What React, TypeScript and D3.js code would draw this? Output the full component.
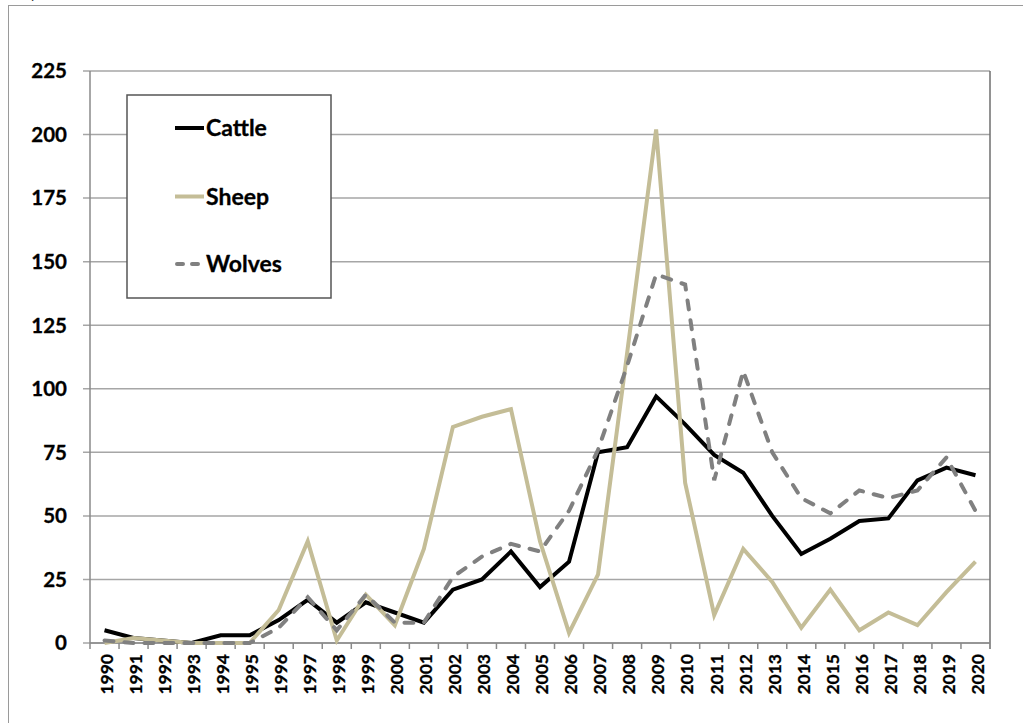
import React from "react";
import * as d3 from "d3";

const years: string[] = [
  "1990","1991","1992","1993","1994","1995","1996","1997","1998","1999",
  "2000","2001","2002","2003","2004","2005","2006","2007","2008","2009",
  "2010","2011","2012","2013","2014","2015","2016","2017","2018","2019","2020",
];

const cattle: number[] = [5, 2, 1, 0, 3, 3, 9, 17, 8, 16, 12, 8, 21, 25, 36, 22, 32, 75, 77, 97, 86, 74, 67, 50, 35, 41, 48, 49, 64, 69, 66];
const sheep: number[] = [0, 2, 1, 0, 0, 0, 13, 40, 1, 19, 7, 37, 85, 89, 92, 40, 4, 27, 114, 202, 63, 11, 37, 24, 6, 21, 5, 12, 7, 20, 32];
const wolves: number[] = [1, 0, 0, 0, 0, 0, 6, 18, 5, 19, 8, 8, 26, 34, 39, 36, 52, 76, 109, 145, 141, 64, 107, 75, 57, 51, 60, 57, 60, 73, 52];

const yTicks: number[] = [0, 25, 50, 75, 100, 125, 150, 175, 200, 225];

const seriesNames: string[] = ["Cattle", "Sheep", "Wolves"];

const W = 1023;
const H = 723;
const FONT = "Lato, 'Open Sans', sans-serif";

export default function App() {
  const left = 90, right = 990, top = 71, bottom = 643;
  const x = d3.scaleBand<string>().domain(years).range([left, right]).padding(0);
  const y = d3.scaleLinear().domain([0, 225]).range([bottom, top]);
  const cx = (yr: string) => (x(yr) as number) + x.bandwidth() / 2;

  const lineGen = (vals: number[]) =>
    d3.line<number>()
      .x((_, i) => cx(years[i]))
      .y((v) => y(v))(vals) as string;

  const styles = [
    { color: "#000000", dash: undefined as string | undefined, cap: "butt" },
    { color: "#c4bd97", dash: undefined as string | undefined, cap: "butt" },
    { color: "#808080", dash: "9 11", cap: "round" },
  ];
  const data = [cattle, sheep, wolves];

  const legendX = 127, legendY = 95, legendW = 204, legendH = 203;
  const legendRows = [128, 196.5, 264];

  return (
    <svg width={W} height={H} style={{ position: "absolute", left: 0, top: 0, background: "#fff" }}>
      <rect x={0} y={0} width={W} height={H} fill="#fff" />
      <text x={31} y={-1} fontFamily={FONT} fontSize={14} fill="#333">p</text>
      {/* outer frame */}
      <line x1={8} y1={5.5} x2={W} y2={5.5} stroke="#9a9a9a" strokeWidth={1} />
      <line x1={8.5} y1={5} x2={8.5} y2={H} stroke="#9a9a9a" strokeWidth={1} />

      {/* gridlines */}
      {yTicks.map((t) => (
        <line key={"g" + t} x1={left - 7} x2={right} y1={y(t)} y2={y(t)} stroke="#a6a6a6" strokeWidth={1.5} />
      ))}
      {/* y labels */}
      {yTicks.map((t) => (
        <text key={"yl" + t} x={67} y={y(t)} dy="0.36em" textAnchor="end" fontFamily={FONT} fontWeight={700} fontSize={20.5} fill="#000" stroke="#000" strokeWidth={0.3}>
          {t}
        </text>
      ))}
      {/* axes */}
      <line x1={left} x2={left} y1={top} y2={bottom} stroke="#8a8a8a" strokeWidth={1.5} />
      <line x1={right} x2={right} y1={top} y2={bottom + 6} stroke="#6e6e6e" strokeWidth={1.5} />
      <line x1={left} x2={right} y1={bottom} y2={bottom} stroke="#8a8a8a" strokeWidth={1.5} />
      {years.map((yr) => (
        <line key={"xt" + yr} x1={x(yr) as number} x2={x(yr) as number} y1={bottom} y2={bottom + 6} stroke="#8a8a8a" strokeWidth={1.5} />
      ))}
      {/* x labels */}
      {years.map((yr) => (
        <text
          key={"xl" + yr}
          transform={`translate(${cx(yr) + 2},${bottom + 11}) rotate(-90)`}
          textAnchor="end"
          dy="0.36em"
          fontFamily={FONT}
          fontWeight={700}
          fontSize={17.5}
          fill="#000"
          stroke="#000"
          strokeWidth={0.3}
        >
          {yr}
        </text>
      ))}

      {/* series */}
      {data.map((vals, i) => (
        <path
          key={"s" + i}
          d={lineGen(vals)}
          fill="none"
          stroke={styles[i].color}
          strokeWidth={4}
          strokeDasharray={styles[i].dash}
          strokeLinecap={styles[i].cap as any}
          strokeLinejoin="miter"
        />
      ))}

      {/* legend */}
      <rect x={legendX} y={legendY} width={legendW} height={legendH} fill="#fff" stroke="#555" strokeWidth={1.5} />
      {seriesNames.map((name, i) => (
        <g key={"lg" + name}>
          <line
            x1={i === 2 ? 177 : 175}
            x2={i === 2 ? 202 : 204}
            y1={legendRows[i]}
            y2={legendRows[i]}
            stroke={styles[i].color}
            strokeWidth={4}
            strokeDasharray={i === 2 ? "6 9" : undefined}
            strokeLinecap={styles[i].cap as any}
          />
          <text x={206} y={legendRows[i]} dy="0.36em" fontFamily={FONT} fontWeight={700} fontSize={23} fill="#000" stroke="#000" strokeWidth={0.3}>
            {name}
          </text>
        </g>
      ))}
    </svg>
  );
}
